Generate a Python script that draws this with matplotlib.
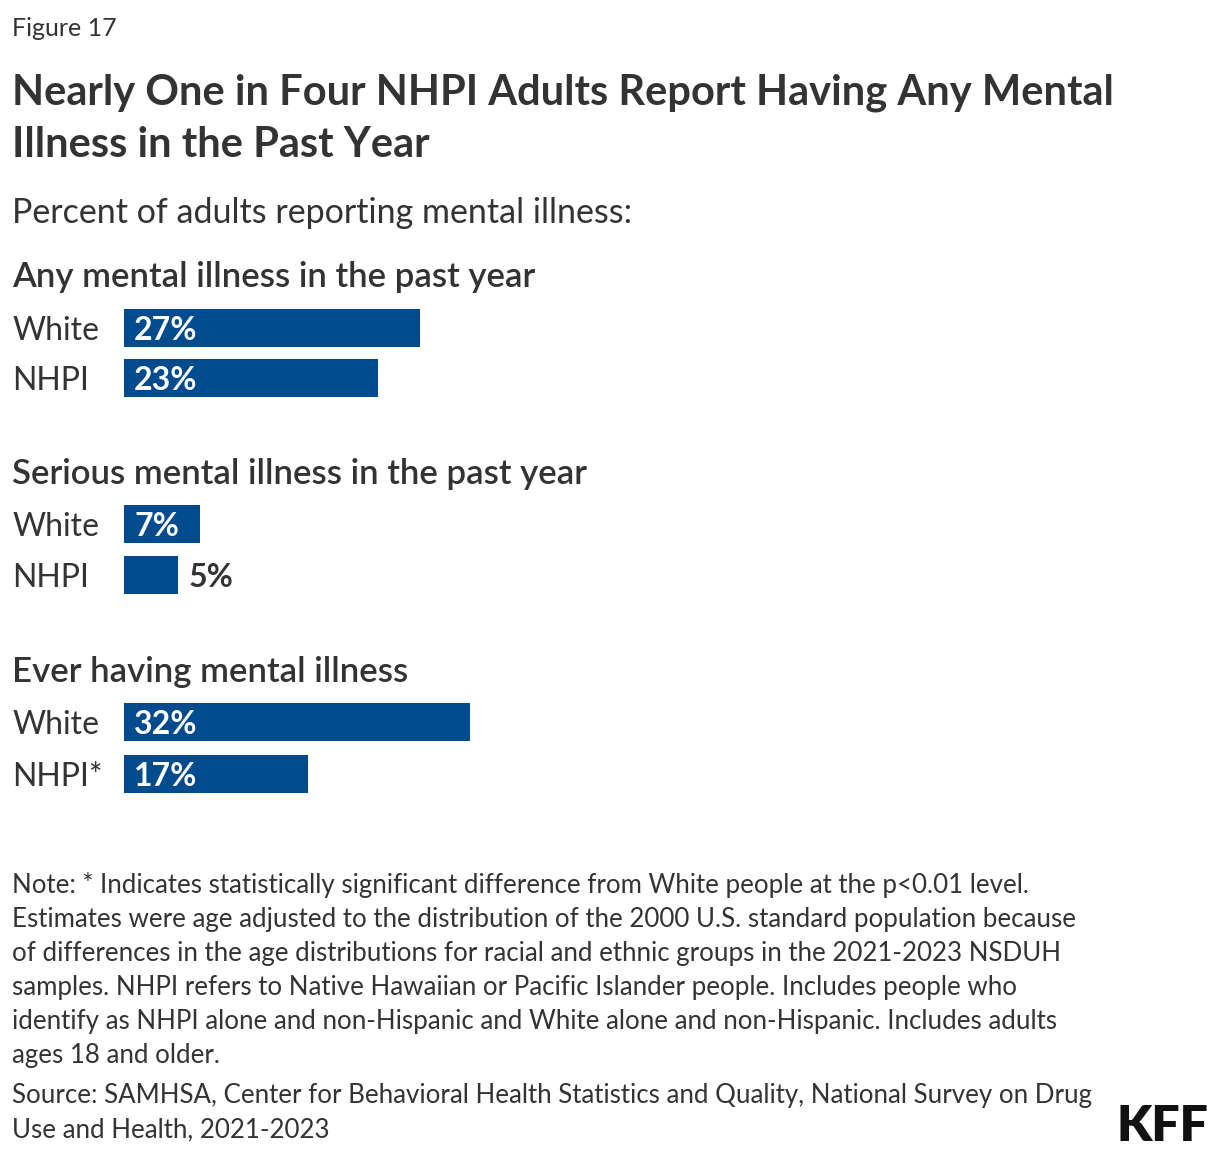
import matplotlib
matplotlib.use("Agg")
import matplotlib.pyplot as plt

# ---- data ----
groups = ["Any mental illness in the past year",
          "Serious mental illness in the past year",
          "Ever having mental illness"]
row_labels = [["White", "NHPI"], ["White", "NHPI"], ["White", "NHPI*"]]
values = [[27.3, 23.4], [7.0, 5.0], [31.9, 17.0]]
value_labels = [["27%", "23%"], ["7%", "5%"], ["32%", "17%"]]

title_lines = ["Nearly One in Four NHPI Adults Report Having Any Mental",
               "Illness in the Past Year"]
subtitle = "Percent of adults reporting mental illness:"
note_lines = [
    "Note: * Indicates statistically significant difference from White people at the p<0.01 level.",
    "Estimates were age adjusted to the distribution of the 2000 U.S. standard population because",
    "of differences in the age distributions for racial and ethnic groups in the 2021-2023 NSDUH",
    "samples. NHPI refers to Native Hawaiian or Pacific Islander people. Includes people who",
    "identify as NHPI alone and non-Hispanic and White alone and non-Hispanic. Includes adults",
    "ages 18 and older.",
]
source_lines = ["Source: SAMHSA, Center for Behavioral Health Statistics and Quality, National Survey on Drug",
                "Use and Health, 2021-2023"]

# ---- style ----
W, H = 1220, 1156
BLUE = "#004B8D"
DARK = "#333333"
FONT = ["Lato", "DejaVu Sans"]
plt.rcParams["font.family"] = FONT

fig = plt.figure(figsize=(W / 100, H / 100), dpi=100)
fig.patch.set_facecolor("white")

def fx(x):
    return x / W

def fy(y):
    return 1 - y / H

def ftext(x, y, s, **kw):
    fig.text(fx(x), fy(y), s, va="baseline", ha="left", color=kw.pop("color", DARK), **kw)

ftext(12, 36, "Figure 17", fontsize=18)
ftext(12, 105, title_lines[0], fontsize=30, fontweight="bold")
ftext(12, 157, title_lines[1], fontsize=30, fontweight="bold")
ftext(12, 223, subtitle, fontsize=24.5)

# layout of groups (pixel positions)
header_base = [287, 484, 682]
row_centers = [(328, 378), (524, 575), (722, 774)]
bar_h_px = 38
bar_left = 124
px_per_pct = 10.85
ax_w_px = 1000

for g in range(3):
    c0, c1 = row_centers[g]
    pitch = c1 - c0
    top = c0 - pitch / 2
    bot = c1 + pitch / 2
    ax = fig.add_axes([fx(bar_left), fy(bot), ax_w_px / W, (bot - top) / H])
    ax.set_xlim(0, ax_w_px / px_per_pct)
    ax.set_ylim(1.5, -0.5)
    ax.axis("off")
    ypos = list(range(len(values[g])))
    ax.barh(ypos, values[g], height=bar_h_px / pitch, color=BLUE, left=0)
    for i, (v, lab, rl) in enumerate(zip(values[g], value_labels[g], row_labels[g])):
        if v >= 6:
            ax.text(10 / px_per_pct, i, lab, color="white", fontsize=23,
                    fontweight="bold", va="center_baseline", ha="left")
        else:
            ax.text(v + 10 / px_per_pct, i, lab, color=DARK, fontsize=23,
                    fontweight="bold", va="center_baseline", ha="left")
        ax.text(-112 / px_per_pct, i, rl, color=DARK, fontsize=23,
                va="center_baseline", ha="left", clip_on=False)
    ftext(12, header_base[g], groups[g], fontsize=25, fontweight="semibold")

note_base = 893
for i, line in enumerate(note_lines):
    ftext(12, note_base + i * 34, line, fontsize=18.6)
for i, line in enumerate(source_lines):
    ftext(12, 1103 + i * 34, line, fontsize=18.6)

ftext(1116, 1141, "KFF", fontsize=36, fontweight="heavy", color="#111111")

fig.savefig("out.png", dpi=100, facecolor="white")
